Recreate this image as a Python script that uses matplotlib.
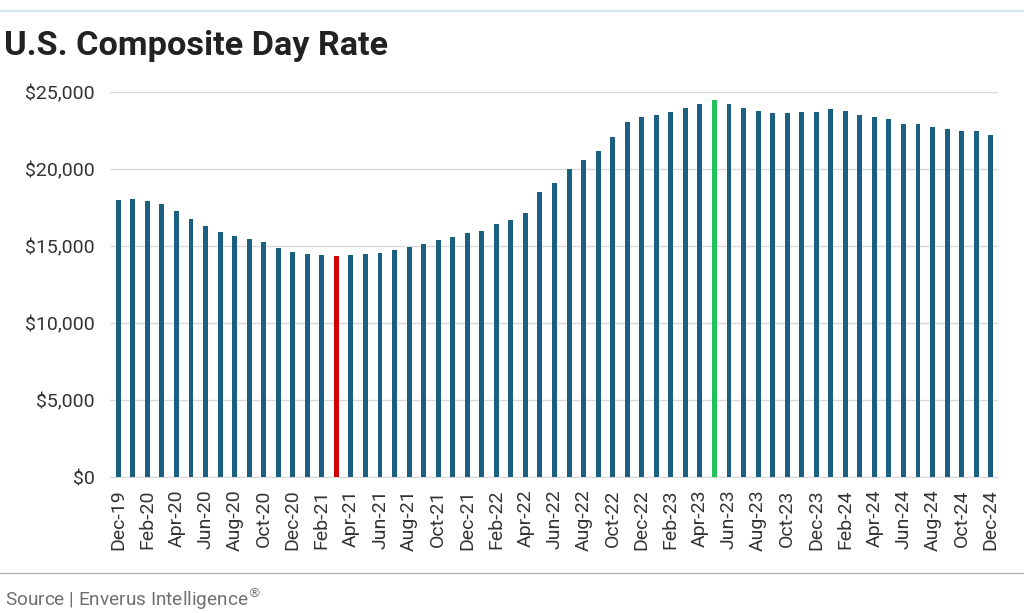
import matplotlib
matplotlib.use("Agg")
import matplotlib.pyplot as plt
from matplotlib.lines import Line2D
from matplotlib.ticker import FuncFormatter

plt.rcParams["font.family"] = ["Roboto", "DejaVu Sans"]

# monthly composite day rate, Dec-19 .. Dec-24
months = ["Dec-19", "Jan-20", "Feb-20", "Mar-20", "Apr-20", "May-20", "Jun-20", "Jul-20",
          "Aug-20", "Sep-20", "Oct-20", "Nov-20", "Dec-20", "Jan-21", "Feb-21", "Mar-21",
          "Apr-21", "May-21", "Jun-21", "Jul-21", "Aug-21", "Sep-21", "Oct-21", "Nov-21",
          "Dec-21", "Jan-22", "Feb-22", "Mar-22", "Apr-22", "May-22", "Jun-22", "Jul-22",
          "Aug-22", "Sep-22", "Oct-22", "Nov-22", "Dec-22", "Jan-23", "Feb-23", "Mar-23",
          "Apr-23", "May-23", "Jun-23", "Jul-23", "Aug-23", "Sep-23", "Oct-23", "Nov-23",
          "Dec-23", "Jan-24", "Feb-24", "Mar-24", "Apr-24", "May-24", "Jun-24", "Jul-24",
          "Aug-24", "Sep-24", "Oct-24", "Nov-24", "Dec-24"]
rates = [18000, 18020, 17950, 17720, 17280, 16760, 16300, 15890,
         15650, 15460, 15260, 14870, 14630, 14500, 14410, 14370,
         14390, 14480, 14540, 14740, 14960, 15130, 15370, 15610,
         15830, 15980, 16410, 16670, 17130, 18500, 19090, 19980,
         20570, 21150, 22070, 23070, 23390, 23500, 23700, 23930,
         24220, 24460, 24200, 23930, 23740, 23630, 23630, 23670,
         23670, 23910, 23760, 23500, 23390, 23220, 22930, 22930,
         22700, 22610, 22480, 22460, 22220]
low_month = "Mar-21"
high_month = "May-23"

blue = "#1b5f82"
red = "#d00000"
green = "#20c05a"

colors = []
for m in months:
    if m == low_month:
        colors.append(red)
    elif m == high_month:
        colors.append(green)
    else:
        colors.append(blue)

fig = plt.figure(figsize=(10.24, 6.13), dpi=100)
ax = fig.add_axes([110 / 1024, 1 - 477 / 613, 888 / 1024, 385 / 613])

x = list(range(len(months)))
ax.bar(x, rates, width=0.34, color=colors, zorder=3)

ax.set_ylim(0, 25000)
ax.set_xlim(-0.57, len(months) - 0.5)
ax.set_yticks(range(0, 25001, 5000))
ax.yaxis.set_major_formatter(FuncFormatter(lambda v, p: f"${v:,.0f}"))
ax.set_xticks(x[::2])
ax.set_xticklabels(months[::2], rotation=90)
ax.tick_params(axis="both", length=0, labelsize=14, colors="#333333")
ax.tick_params(axis="y", pad=11)
ax.tick_params(axis="x", pad=9)
ax.grid(axis="y", color="#d9d9d9", linewidth=1, zorder=0)
for s in ["top", "right", "left"]:
    ax.spines[s].set_visible(False)
ax.spines["bottom"].set_color("#d9d9d9")

fig.text(4 / 1024, 1 - 46 / 613, "U.S. Composite Day Rate", fontsize=24.7, fontweight="bold",
         color="#222222", va="center", ha="left")
fig.text(5 / 1024, 1 - 599 / 613, "Source | Enverus Intelligence$^{\u00ae}$", fontsize=13.7,
         color="#707070", va="center", ha="left")

fig.add_artist(Line2D([0, 1], [1 - 11 / 613, 1 - 11 / 613], color="#cfe6ec", linewidth=1.5))
fig.add_artist(Line2D([0, 1], [1 - 573 / 613, 1 - 573 / 613], color="#b5b5b5", linewidth=1))

fig.savefig("out.png", dpi=100)
